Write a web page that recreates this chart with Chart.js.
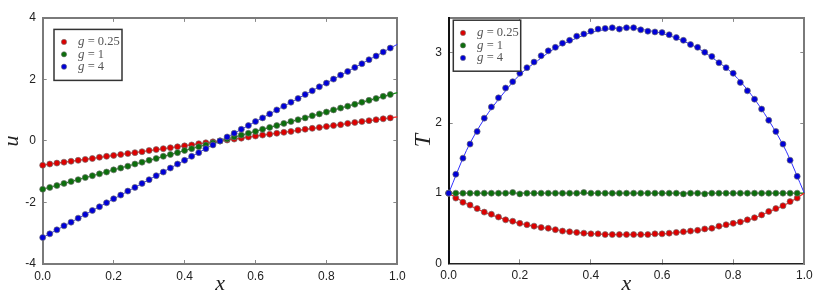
<!DOCTYPE html>
<html><head><meta charset="utf-8">
<script src="https://cdn.jsdelivr.net/npm/chart.js@4/dist/chart.umd.min.js"></script>
<style>
html,body{margin:0;padding:0;background:#fff;width:830px;height:296px;overflow:hidden}
#cl{position:absolute;left:0;top:0}
#cr{position:absolute;left:415px;top:0}
</style>
</head><body>
<canvas id="cl" width="415" height="296"></canvas>
<canvas id="cr" width="415" height="296"></canvas>
<script>
// ---------- data ----------
const seriesLabels = ['g = 0.25', 'g = 1', 'g = 4'];
const xMarkers = [0,0.02,0.04,0.06,0.08,0.10,0.12,0.14,0.16,0.18,0.20,0.22,0.24,0.26,0.28,0.30,0.32,0.34,0.36,0.38,0.40,0.42,0.44,0.46,0.48,0.50,0.52,0.54,0.56,0.58,0.60,0.62,0.64,0.66,0.68,0.70,0.72,0.74,0.76,0.78,0.80,0.82,0.84,0.86,0.88,0.90,0.92,0.94,0.96,0.98];
const xLineEnds = [0, 1];
const xLine = [0,0.05,0.10,0.15,0.20,0.25,0.30,0.35,0.40,0.45,0.50,0.55,0.60,0.65,0.70,0.75,0.80,0.85,0.90,0.95,1.0];

// left panel: u
const uMarkRed = [-0.79,-0.75,-0.72,-0.69,-0.66,-0.63,-0.60,-0.57,-0.53,-0.50,-0.47,-0.44,-0.41,-0.38,-0.35,-0.31,-0.28,-0.25,-0.22,-0.19,-0.16,-0.13,-0.09,-0.06,-0.03,0,0.03,0.06,0.09,0.13,0.16,0.19,0.22,0.25,0.28,0.31,0.35,0.38,0.41,0.44,0.47,0.50,0.53,0.57,0.60,0.63,0.66,0.69,0.72,0.75];
const uMarkGreen = [-1.57,-1.51,-1.45,-1.38,-1.32,-1.26,-1.19,-1.13,-1.07,-1.01,-0.94,-0.88,-0.82,-0.75,-0.69,-0.63,-0.57,-0.50,-0.44,-0.38,-0.31,-0.25,-0.19,-0.13,-0.06,0,0.06,0.13,0.19,0.25,0.31,0.38,0.44,0.50,0.57,0.63,0.69,0.75,0.82,0.88,0.94,1.01,1.07,1.13,1.19,1.26,1.32,1.38,1.45,1.51];
const uMarkBlue = [-3.14,-3.02,-2.89,-2.76,-2.64,-2.51,-2.39,-2.26,-2.14,-2.01,-1.88,-1.76,-1.63,-1.51,-1.38,-1.26,-1.13,-1.01,-0.88,-0.75,-0.63,-0.50,-0.38,-0.25,-0.13,0,0.13,0.25,0.38,0.50,0.63,0.75,0.88,1.01,1.13,1.26,1.38,1.51,1.63,1.76,1.88,2.01,2.14,2.26,2.39,2.51,2.64,2.76,2.89,3.02];
const uLineRed = [-0.785, 0.785];
const uLineGreen = [-1.571, 1.571];
const uLineBlue = [-3.142, 3.142];

// right panel: T
const tMarkRed = [1.00,0.93,0.87,0.83,0.78,0.73,0.70,0.66,0.62,0.60,0.57,0.55,0.53,0.51,0.50,0.48,0.46,0.45,0.44,0.43,0.42,0.42,0.41,0.41,0.41,0.41,0.41,0.41,0.41,0.42,0.42,0.43,0.44,0.45,0.46,0.47,0.49,0.50,0.53,0.55,0.57,0.59,0.62,0.65,0.69,0.74,0.78,0.82,0.88,0.93];
const tMarkGreen = [1.00,1.00,1.00,1.00,1.00,1.00,1.00,1.00,1.00,1.01,0.99,1.00,1.00,1.00,1.00,1.00,1.00,1.00,1.00,1.01,1.00,1.00,1.00,1.00,1.00,1.00,1.00,1.00,1.00,1.00,1.00,1.00,1.00,0.99,1.00,1.00,0.99,1.00,1.00,1.00,1.00,1.00,1.00,1.00,1.00,1.00,1.00,1.00,1.00,1.00];
const tMarkBlue = [1.00,1.27,1.50,1.70,1.88,2.07,2.23,2.36,2.50,2.59,2.71,2.79,2.87,2.96,3.03,3.08,3.14,3.18,3.24,3.27,3.31,3.34,3.35,3.36,3.34,3.36,3.36,3.33,3.31,3.30,3.29,3.26,3.22,3.18,3.12,3.08,3.01,2.95,2.86,2.79,2.71,2.58,2.46,2.34,2.20,2.04,1.88,1.70,1.47,1.24];
const tLineRed = [1.00,0.85,0.73,0.64,0.57,0.52,0.48,0.445,0.423,0.413,0.41,0.41,0.42,0.445,0.468,0.51,0.57,0.63,0.735,0.845,1.00];
const tLineGreen = [1.00,1.00];
const tLineBlue = [1.00,1.61,2.06,2.40,2.69,2.89,3.07,3.19,3.29,3.34,3.36,3.33,3.28,3.19,3.07,2.90,2.70,2.41,2.04,1.59,1.00];

// ticks
const xTickValues = [0,0.2,0.4,0.6,0.8,1.0];
const xTickLabels = ['0.0','0.2','0.4','0.6','0.8','1.0'];
const uTickValues = [-4,-2,0,2,4];
const uTickLabels = ['-4','-2','0','2','4'];
const tTickValues = [0,1,2,3];
const tTickLabels = ['0','1','2','3'];

// ---------- styles ----------
const markFill = ['#dd0000','#0c6e0c','#0000d8'];
const lineCol = ['#ff2020','#108a10','#3030ff'];

const pts = (xs, ys) => xs.map((x, i) => ({x: x, y: ys[i]}));

function lineDS(xs, ys, i, smooth) {
  return {data: pts(xs, ys), showLine: true, borderColor: lineCol[i], borderWidth: i === 2 ? 1 : 1.2,
    pointRadius: 0, cubicInterpolationMode: smooth ? 'monotone' : 'default', tension: 0,
    fill: false, clip: false, order: 5 + i};
}
function markDS(ys, i) {
  return {label: seriesLabels[i], legend: true, data: pts(xMarkers, ys), showLine: false,
    backgroundColor: markFill[i], pointBackgroundColor: markFill[i], pointBorderColor: 'rgba(110,110,110,0.85)',
    pointBorderWidth: 0.8, pointRadius: 3, clip: false, order: 2 - i};
}

const boxLegend = {
  id: 'boxLegend',
  afterDraw(chart, args, o) {
    const {ctx, chartArea: a} = chart;
    const x = a.left + o.dx, y = a.top + o.dy;
    ctx.save();
    ctx.fillStyle = '#fff';
    ctx.fillRect(x, y, o.w, o.h);
    ctx.strokeStyle = '#333';
    ctx.lineWidth = 1.5;
    ctx.strokeRect(x, y, o.w, o.h);
    const items = chart.data.datasets.filter(d => d.legend);
    items.forEach((d, i) => {
      const cy = y + o.first + i * o.step;
      ctx.beginPath();
      ctx.arc(x + o.mx, cy, 2.6, 0, 2 * Math.PI);
      ctx.fillStyle = d.backgroundColor;
      ctx.fill();
      ctx.strokeStyle = 'rgba(110,110,110,0.85)';
      ctx.lineWidth = 0.7;
      ctx.stroke();
      ctx.fillStyle = '#555';
      ctx.textBaseline = 'middle';
      ctx.textAlign = 'left';
      const g = d.label.charAt(0), rest = d.label.slice(1);
      ctx.font = 'italic 13px "Liberation Serif"';
      ctx.fillText(g, x + o.tx, cy);
      const w = ctx.measureText(g).width;
      ctx.font = '12.5px "Liberation Serif"';
      ctx.fillText(rest, x + o.tx + w, cy);
    });
    ctx.restore();
  }
};

function setTicks(vals) { return s => { s.ticks = vals.map(v => ({value: v})); }; }

function makeScales(cfg) {
  const tickFont = {family: 'Liberation Sans', size: 12};
  return {
    x: {type: 'linear', position: 'bottom', min: 0, max: 1,
      afterBuildTicks: setTicks(xTickValues),
      ticks: {callback: (v, i) => xTickLabels[i], padding: 9.3, font: tickFont, color: '#222', maxRotation: 0, autoSkip: false},
      grid: {drawOnChartArea: false, drawTicks: true, tickLength: -4, color: '#888', lineWidth: 1},
      border: {color: cfg.bottomCol, width: cfg.bottomW},
      title: {display: true, text: 'x', color: '#222', font: {family: 'Liberation Serif', style: 'italic', size: 22, lineHeight: 0.8}, padding: {top: 0, bottom: 3.2}},
      afterFit: s => { s.height = cfg.bottomH; }
    },
    x2: {type: 'linear', position: 'top', min: 0, max: 1,
      afterBuildTicks: setTicks(xTickValues),
      ticks: {display: false},
      grid: {drawOnChartArea: false, drawTicks: true, tickLength: -4, color: '#888', lineWidth: 1},
      border: {color: '#7a7a7a', width: 2},
      afterFit: s => { s.height = cfg.topH; }
    },
    y: {type: 'linear', position: 'left', min: cfg.ymin, max: cfg.ymax,
      afterBuildTicks: setTicks(cfg.yVals),
      ticks: {callback: (v, i) => cfg.yLabels[i], padding: 10.7, font: tickFont, color: '#222', autoSkip: false},
      grid: {drawOnChartArea: false, drawTicks: true, tickLength: -4, color: '#888', lineWidth: 1},
      border: {color: cfg.leftCol, width: 2},
      title: {display: true, text: cfg.yTitle, color: '#222', font: {family: 'Liberation Serif', style: 'italic', size: cfg.yTitleSize, lineHeight: 0.6}, padding: {top: cfg.yTitlePad, bottom: 0}},
      afterFit: s => { s.width = cfg.leftW; }
    },
    y2: {type: 'linear', position: 'right', min: cfg.ymin, max: cfg.ymax,
      afterBuildTicks: setTicks(cfg.yVals),
      ticks: {display: false},
      grid: {drawOnChartArea: false, drawTicks: true, tickLength: -4, color: '#888', lineWidth: 1},
      border: {color: '#7a7a7a', width: 2},
      afterFit: s => { s.width = cfg.rightW; }
    }
  };
}

const common = {
  responsive: false, animation: false, devicePixelRatio: 1,
  layout: {padding: 0},
  plugins: {legend: {display: false}, tooltip: {enabled: false}}
};

new Chart(document.getElementById('cl'), {
  type: 'scatter',
  data: {datasets: [
    markDS(uMarkRed, 0), markDS(uMarkGreen, 1), markDS(uMarkBlue, 2),
    lineDS(xLineEnds, uLineRed, 0, false), lineDS(xLineEnds, uLineGreen, 1, false), lineDS(xLineEnds, uLineBlue, 2, false)
  ]},
  options: Object.assign({}, common, {
    scales: makeScales({bottomCol: '#7a7a7a', bottomW: 2, bottomH: 32, topH: 6.5, leftCol: '#7a7a7a', leftW: 42.7, rightW: 17,
      ymin: -4, ymax: 4, yVals: uTickValues, yLabels: uTickLabels, yTitle: 'u', yTitleSize: 22, yTitlePad: 6}),
    plugins: Object.assign({}, common.plugins, {boxLegend: {dx: 11.3, dy: 11.5, w: 68, h: 51, mx: 10, first: 12.5, step: 12.4, tx: 24}})
  }),
  plugins: [boxLegend]
});

new Chart(document.getElementById('cr'), {
  type: 'scatter',
  data: {datasets: [
    markDS(tMarkRed, 0), markDS(tMarkGreen, 1), markDS(tMarkBlue, 2),
    lineDS(xLine, tLineRed, 0, true), lineDS(xLineEnds, tLineGreen, 1, false), lineDS(xLine, tLineBlue, 2, true)
  ]},
  options: Object.assign({}, common, {
    scales: makeScales({bottomCol: '#222', bottomW: 1.5, bottomH: 32.7, topH: 6.7, leftCol: '#111', leftW: 33.7, rightW: 25.7,
      ymin: 0, ymax: 3.5, yVals: tTickValues, yLabels: tTickLabels, yTitle: 'T', yTitleSize: 24, yTitlePad: 1.3}),
    plugins: Object.assign({}, common.plugins, {boxLegend: {dx: 4.6, dy: 2.3, w: 67.4, h: 51, mx: 9.7, first: 12.7, step: 12.5, tx: 23.7}})
  }),
  plugins: [boxLegend]
});
</script>
</body></html>
